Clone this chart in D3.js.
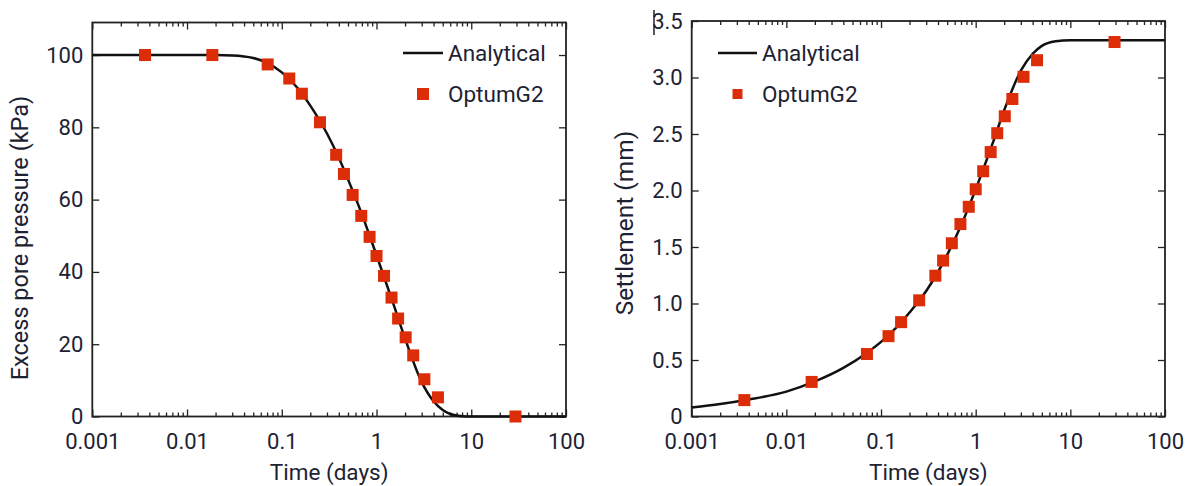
<!DOCTYPE html>
<html>
<head>
<meta charset="utf-8">
<script src="https://cdn.jsdelivr.net/npm/d3@7"></script>
<style>
  html, body { margin: 0; padding: 0; background: #fff; }
  svg { display: block; }
  .tick text { font-family: Roboto, "Liberation Sans", sans-serif; fill: #1d2233; }
  .lbl { font-family: Roboto, "Liberation Sans", sans-serif; fill: #1d2233; }
</style>
</head>
<body>
<svg id="chart" width="1190" height="486"></svg>
<script>
  // time of each OptumG2 result (days), shared by both panels
  const times = [0.0036, 0.0185, 0.071, 0.12, 0.163, 0.253, 0.375, 0.453, 0.56, 0.69, 0.845, 1.0, 1.2, 1.44, 1.69, 2.03, 2.44, 3.2, 4.45, 29.3];
  const porePressure = [100, 100, 97.4, 93.5, 89.3, 81.4, 72.4, 67.1, 61.3, 55.5, 49.7, 44.4, 38.9, 32.9, 27.1, 21.9, 16.9, 10.3, 5.3, 0];
  const settlement = [0.145, 0.306, 0.553, 0.711, 0.835, 1.028, 1.246, 1.38, 1.533, 1.703, 1.856, 2.011, 2.17, 2.34, 2.507, 2.657, 2.81, 3.006, 3.153, 3.314];

  // analytical curves
  const poreCurveT = [0.001, 0.01, 0.02, 0.03, 0.05, 0.07, 0.1, 0.15, 0.2, 0.3, 0.4, 0.5, 0.7, 1.0, 1.5, 2, 3, 4, 5, 6, 8, 10, 100];
  const poreCurveU = [100, 100, 100, 99.9, 99.2, 97.8, 95.2, 90.6, 86, 78.3, 71.6, 65.6, 56, 44.6, 31.3, 21.6, 9.5, 4.2, 1.8, 0.7, 0.1, 0, 0];
  const settleCurveT = [0.001, 0.002, 0.004, 0.01, 0.02, 0.04, 0.07, 0.1, 0.15, 0.2, 0.3, 0.5, 0.7, 1.0, 1.5, 2, 3, 4, 5, 7, 10, 100];
  const settleCurveS = [0.08, 0.11, 0.15, 0.22, 0.31, 0.43, 0.56, 0.66, 0.8, 0.92, 1.11, 1.43, 1.69, 2.01, 2.41, 2.71, 3.06, 3.21, 3.28, 3.32, 3.33, 3.33];

  const xTicks = [0.001, 0.01, 0.1, 1, 10, 100];
  const poreTicks = [0, 20, 40, 60, 80, 100];
  const settleTicks = [0, 0.5, 1.0, 1.5, 2.0, 2.5, 3.0, 3.5];

  const RED = '#dc2d08';
  const INK = '#1d2233';
  const svg = d3.select('#chart');

  function minorTicks() {
    const out = [];
    for (let e = -3; e < 2; e++) {
      for (let k = 2; k <= 9; k++) out.push(k * Math.pow(10, e));
    }
    return out;
  }

  function panel(opt) {
    const g = svg.append('g');
    const x = d3.scaleLog().domain([0.001, 100]).range([opt.left, opt.right]);
    const y = d3.scaleLinear().domain(opt.yDomain).range([opt.bottom, opt.top]);

    // minor x ticks, bottom and top
    g.append('g').attr('transform', `translate(0,${opt.bottom})`)
      .call(d3.axisBottom(x).tickValues(minorTicks()).tickSizeInner(-4).tickSizeOuter(0).tickFormat(''));
    g.append('g').attr('transform', `translate(0,${opt.top})`)
      .call(d3.axisTop(x).tickValues(minorTicks()).tickSizeInner(-4).tickSizeOuter(0).tickFormat(''));

    // major x ticks
    g.append('g').attr('transform', `translate(0,${opt.bottom})`)
      .call(d3.axisBottom(x).tickValues(xTicks).tickSizeInner(-7).tickSizeOuter(0)
        .tickPadding(17).tickFormat(d => String(d)));
    g.append('g').attr('transform', `translate(0,${opt.top})`)
      .call(d3.axisTop(x).tickValues(xTicks).tickSizeInner(-7).tickSizeOuter(0).tickFormat(''));

    // y ticks left with labels, right without
    g.append('g').attr('transform', `translate(${opt.left},0)`)
      .call(d3.axisLeft(y).tickValues(opt.yTicks).tickSizeInner(-7).tickSizeOuter(0)
        .tickPadding(9).tickFormat(opt.yFormat));
    g.append('g').attr('transform', `translate(${opt.right},0)`)
      .call(d3.axisRight(y).tickValues(opt.yTicks).tickSizeInner(-7).tickSizeOuter(0).tickFormat(''));

    g.selectAll('.domain').remove();
    g.selectAll('.tick line').attr('stroke', '#222').attr('stroke-width', 1.3);
    g.selectAll('.tick text').attr('font-size', 22);

    // frame
    g.append('rect')
      .attr('x', opt.left).attr('y', opt.top)
      .attr('width', opt.right - opt.left).attr('height', opt.bottom - opt.top)
      .attr('fill', 'none').attr('stroke', '#222').attr('stroke-width', 1.8);

    // analytical line
    const line = d3.line().x(d => x(d[0])).y(d => y(d[1])).curve(d3.curveMonotoneX);
    g.append('path')
      .datum(opt.curveT.map((t, i) => [t, opt.curveV[i]]))
      .attr('d', line)
      .attr('fill', 'none').attr('stroke', '#111').attr('stroke-width', 2.5);

    // OptumG2 points
    const s = 12;
    g.selectAll('rect.pt')
      .data(times.map((t, i) => [t, opt.points[i]]))
      .enter().append('rect')
      .attr('class', 'pt')
      .attr('x', d => x(d[0]) - s / 2).attr('y', d => y(d[1]) - s / 2)
      .attr('width', s).attr('height', s)
      .attr('fill', RED);

    // axis titles
    g.append('text').attr('class', 'lbl')
      .attr('x', (opt.left + opt.right) / 2).attr('y', 480)
      .attr('text-anchor', 'middle').attr('font-size', 22.5)
      .text('Time (days)');
    g.append('text').attr('class', 'lbl')
      .attr('transform', `translate(${opt.titleX},${opt.titleY}) rotate(-90)`)
      .attr('text-anchor', 'middle').attr('font-size', opt.titleSize)
      .text(opt.yTitle);

    // legend
    const lg = g.append('g');
    lg.append('line')
      .attr('x1', opt.legX).attr('x2', opt.legX + opt.legLine)
      .attr('y1', 53).attr('y2', 53)
      .attr('stroke', '#111').attr('stroke-width', 2.5);
    lg.append('rect')
      .attr('x', opt.legX + opt.legLine / 2 - opt.legSq / 2).attr('y', 94 - opt.legSq / 2)
      .attr('width', opt.legSq).attr('height', opt.legSq).attr('fill', RED);
    lg.append('text').attr('class', 'lbl')
      .attr('x', opt.legX + opt.legLine + 5).attr('y', 61).attr('font-size', 22.5)
      .text('Analytical');
    lg.append('text').attr('class', 'lbl')
      .attr('x', opt.legX + opt.legLine + 5).attr('y', 102).attr('font-size', 22.5)
      .text('OptumG2');
    return g;
  }

  panel({
    left: 92.3, right: 566, top: 22.5, bottom: 416.5,
    yDomain: [0, 109], yTicks: poreTicks, yFormat: d => String(d),
    curveT: poreCurveT, curveV: poreCurveU, points: porePressure,
    yTitle: 'Excess pore pressure (kPa)', titleX: 28, titleY: 238, titleSize: 23.5,
    legX: 403, legLine: 40, legSq: 12
  });

  panel({
    left: 691.7, right: 1165, top: 21, bottom: 416.5,
    yDomain: [0, 3.5], yTicks: settleTicks, yFormat: d => d === 0 ? '0' : d.toFixed(1),
    curveT: settleCurveT, curveV: settleCurveS, points: settlement,
    yTitle: 'Settlement (mm)', titleX: 633, titleY: 223, titleSize: 24.5,
    legX: 718, legLine: 39, legSq: 10
  });

  // stray mark beside the top label of the right panel
  svg.append('line')
    .attr('x1', 654).attr('x2', 654).attr('y1', 10).attr('y2', 35)
    .attr('stroke', INK).attr('stroke-width', 1.5);
</script>
</body>
</html>
